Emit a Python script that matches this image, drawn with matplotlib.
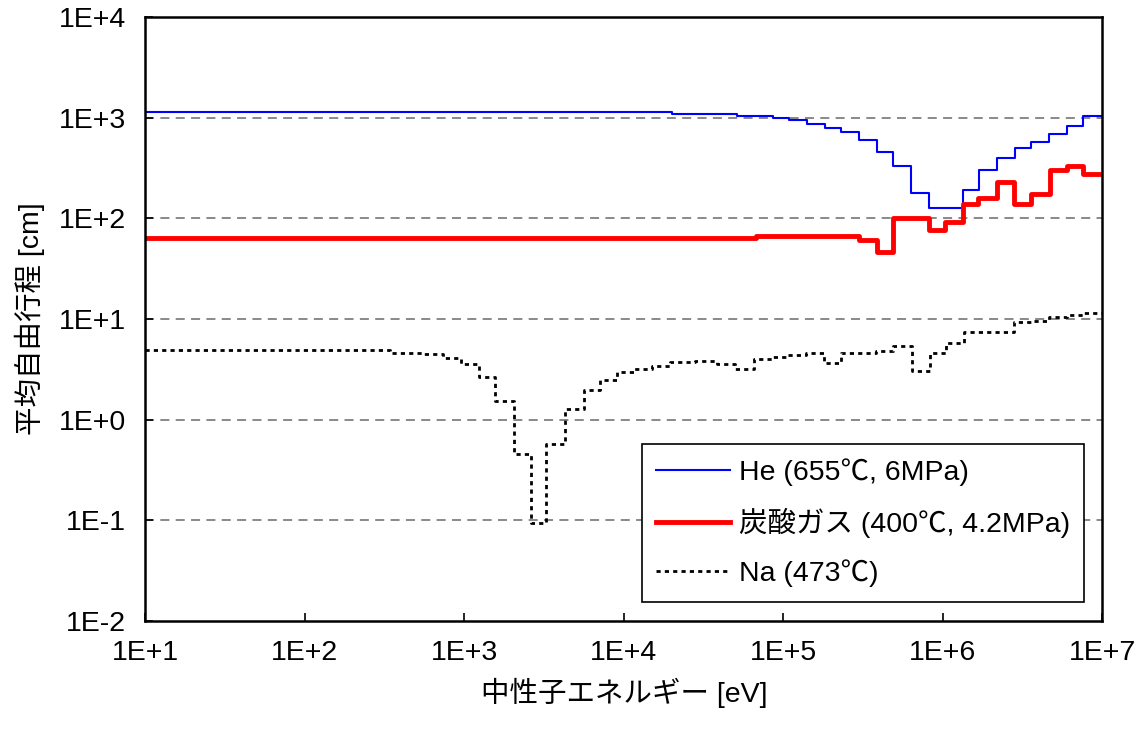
import numpy as np
import matplotlib
matplotlib.use('Agg')
import matplotlib.pyplot as plt
from matplotlib.ticker import FuncFormatter, FixedLocator

plt.rcParams['font.family'] = ['Liberation Sans', 'Noto Sans CJK JP', 'DejaVu Sans']

# エネルギー群の境界 [eV] と各群の平均自由行程 [cm]
he_edges = [1e1, 2.0e4, 5.1e4, 8.6e4, 1.09e5, 1.41e5, 1.83e5, 2.29e5, 2.99e5, 3.87e5,
            4.88e5, 6.33e5, 8.2e5, 1.33e6, 1.69e6, 2.2e6, 2.84e6, 3.58e6, 4.64e6,
            6.03e6, 7.6e6, 1e7]
he_mfp = [1150, 1090, 1050, 1000, 955, 872, 796, 726, 604, 459,
          333, 180, 128, 193, 304, 400, 503, 577, 693, 833, 1047]

co2_edges = [1e1, 6.7e4, 2.99e5, 3.87e5, 4.88e5, 8.2e5, 1.03e6, 1.33e6, 1.67e6,
             2.19e6, 2.8e6, 3.58e6, 4.7e6, 6.03e6, 7.6e6, 1e7]
co2_mfp = [63.7, 66.7, 60.9, 46.2, 100.7, 76.5, 91.9, 138.7, 159, 229,
           138.7, 174, 302, 330, 276]

na_edges = [1e1, 342, 555, 734, 948, 1230, 1565, 2040, 2620, 3270, 4300, 5610,
            7140, 9080, 1.16e4, 1.51e4, 1.96e4, 2.8e4, 3.86e4, 5.0e4, 6.56e4,
            8.55e4, 1.06e5, 1.38e5, 1.8e5, 2.29e5, 3.8e5, 4.84e5, 6.4e5, 8.3e5,
            1.05e6, 1.36e6, 2.8e6, 3.6e6, 4.64e6, 6.03e6, 7.6e6, 1e7]
na_mfp = [4.9, 4.6, 4.45, 4.1, 3.6, 2.68, 1.53, 0.46, 0.095, 0.57, 1.27, 1.95,
          2.45, 2.97, 3.18, 3.39, 3.71, 3.8, 3.6, 3.22, 4.04, 4.24, 4.43, 4.6,
          3.63, 4.57, 4.86, 5.44, 3.03, 4.57, 5.73, 7.48, 9.27, 9.64, 10.4,
          11.0, 11.5]

labels = ['He (655℃, 6MPa)', '炭酸ガス (400℃, 4.2MPa)', 'Na (473℃)']
x_ticks = [1e1, 1e2, 1e3, 1e4, 1e5, 1e6, 1e7]
y_ticks = [1e-2, 1e-1, 1e0, 1e1, 1e2, 1e3, 1e4]


def stepline(edges, vals):
    # 最後の値を繰り返して post ステップ用にする
    return np.array(edges), np.append(vals, vals[-1])


fig = plt.figure(figsize=(11.47, 7.31), dpi=100)
ax = fig.add_axes([0.1267, 0.1505, 0.8343, 0.8262])

x, y = stepline(he_edges, he_mfp)
ax.step(x, y, where='post', color='#0000ff', lw=1.5, label=labels[0])
x, y = stepline(co2_edges, co2_mfp)
ax.step(x, y, where='post', color='#ff0000', lw=3.5, label=labels[1])
x, y = stepline(na_edges, na_mfp)
ax.step(x, y, where='post', color='black', lw=2.0, linestyle=(0, (1.5, 1.5)), label=labels[2])

ax.set_xscale('log')
ax.set_yscale('log')
ax.set_xlim(1e1, 1e7)
ax.set_ylim(1e-2, 1e4)

fmt = FuncFormatter(lambda v, p: '1E%+d' % int(round(np.log10(v))))
ax.xaxis.set_major_locator(FixedLocator(x_ticks))
ax.yaxis.set_major_locator(FixedLocator(y_ticks))
ax.xaxis.set_major_formatter(fmt)
ax.yaxis.set_major_formatter(fmt)
ax.xaxis.set_minor_locator(FixedLocator([]))
ax.yaxis.set_minor_locator(FixedLocator([]))

ax.tick_params(axis='x', direction='in', length=6, width=1.2, labelsize=20.5, pad=14)
ax.tick_params(axis='y', direction='in', length=6, width=1.2, labelsize=20.5, pad=14)

for v in y_ticks[1:-1]:
    ax.axhline(v, color='#808080', lw=1.3, linestyle=(0, (5, 3.5)), zorder=0)

for s in ax.spines.values():
    s.set_linewidth(1.8)

ax.set_xlabel('中性子エネルギー [eV]', fontsize=20.5, labelpad=8)
ax.set_ylabel('平均自由行程 [cm]', fontsize=20.5, labelpad=10)

leg = ax.legend(loc='lower right', bbox_to_anchor=(0.981, 0.032), borderaxespad=0,
                fontsize=20.5, fancybox=False, edgecolor='black', framealpha=1,
                handlelength=2.6, handletextpad=0.3, labelspacing=0.76, borderpad=0.5)
leg.get_frame().set_linewidth(1.2)

fig.savefig('out.png', dpi=100)
